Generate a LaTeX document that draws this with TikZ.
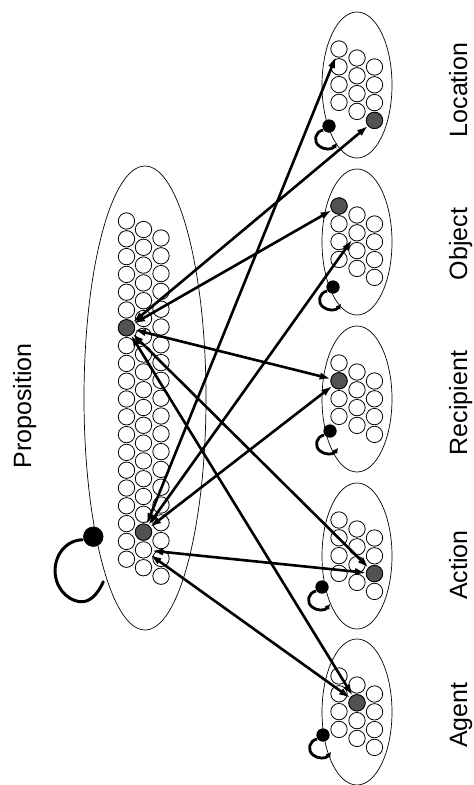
\documentclass[tikz,border=0pt]{standalone}
\usepackage{fontspec}
\setmainfont{Liberation Sans}
\usetikzlibrary{arrows.meta,shapes.geometric,calc}
\newcommand\roleloop[1]{%
  \draw[loopline] ($(#1)+(-6,4)$) .. controls ($(#1)+(-14,6)$) and ($(#1)+(-16,15)$) .. ($(#1)+(-10,20)$)
     .. controls ($(#1)+(-5,24)$) and ($(#1)+(3,24)$) .. ($(#1)+(8,17)$);}
\begin{document}
\begin{tikzpicture}[x=1pt,y=-1pt,
  unit/.style={circle,draw,line width=0.8pt,minimum size=16.4pt,inner sep=0pt,fill=white},
  hot/.style={unit,fill=black!68},
  grp/.style={ellipse,draw,line width=0.7pt,inner sep=0pt},
  link/.style={line width=2.6pt,{Latex[length=11pt,width=7.5pt]}-{Latex[length=11pt,width=7.5pt]}},
  rdot/.style={circle,fill=black,inner sep=0pt,minimum size=13pt},
  loopline/.style={line width=2.8pt,-{Latex[length=5pt,width=6pt]}},
  lab/.style={rotate=90,anchor=base,inner sep=0pt,font=\fontsize{25}{30}\selectfont}]
\useasboundingbox (0,0) rectangle (474,785);
\fill[white] (0,0) rectangle (474,785);

% Proposition group
\node[grp,minimum width=122pt,minimum height=464pt] (eprop) at (145,398) {};
\foreach \c/\x/\y in {1/126.5/221,2/143.5/229.5,3/161/238}
  \foreach \i in {0,...,19}
    \node[unit] (p-\c-\i) at (\x,\y+\i*17.8) {};
\node[hot] (pH1) at (p-1-6) {};
\node[hot] (pH2) at (p-2-17) {};

% Role groups
\foreach \n/\cy in {loc/85,obj/242,rec/399,act/556,agt/712}{
  \node[grp,minimum width=70pt,minimum height=146pt] (e\n) at (357,\cy) {};
  \foreach \c/\dx/\dy in {1/-18/-36,2/0/-27,3/17.5/-18}
    \foreach \i in {0,...,3}
      \node[unit] (\n-\c-\i) at (357+\dx,\cy+\dy+\i*17.8) {};
}
\node[hot] (locH) at (loc-3-3) {};
\node[hot] (objH) at (obj-1-0) {};
\node[hot] (recH) at (rec-1-1) {};
\node[hot] (actH) at (act-3-2) {};
\node[hot] (agtH) at (agt-2-1) {};

% Connections
\draw[link] (pH1) -- (locH);
\draw[link] (pH1) -- (objH);
\draw[link] (pH1) -- (recH);
\draw[link] (pH1) -- (actH);
\draw[link] (pH1) -- (agtH);
\draw[link] (pH2) -- (loc-1-0);
\draw[link] (pH2) -- (obj-2-1);
\draw[link] (pH2) -- (recH);
\draw[link] (p-2-18) -- (actH);
\draw[link] (p-2-18) -- (agtH);

% Self loops
\node[rdot] (dloc) at (329,126) {};
\node[rdot] (dobj) at (333,287) {};
\node[rdot] (drec) at (330,431) {};
\node[rdot] (dact) at (322,587) {};
\node[rdot] (dagt) at (323,735) {};
\roleloop{dloc}
\roleloop{dobj}
\roleloop{drec}
\roleloop{dact}
\roleloop{dagt}
\node[rdot] at (dloc) {};
\node[rdot] at (dobj) {};
\node[rdot] at (drec) {};
\node[rdot] at (dact) {};
\node[rdot] at (dagt) {};

\node[rdot,minimum size=20pt] (pdot) at (93.3,536.7) {};
\draw[line width=3pt,line cap=round] ($(pdot)+(-11,3)$) .. controls ($(pdot)+(-30,4)$) and ($(pdot)+(-40,22)$) .. ($(pdot)+(-38,38)$)
   .. controls ($(pdot)+(-36,55)$) and ($(pdot)+(-22,66)$) .. ($(pdot)+(-10,65)$)
   .. controls ($(pdot)+(0,64)$) and ($(pdot)+(7,52)$) .. ($(pdot)+(10,45)$);
\node[rdot,minimum size=20pt] at (pdot) {};

% Labels
\node[lab] (lprop) at (31,406) {Proposition};
\node[lab] (lloc) at (467,90) {Location};
\node[lab] (lobj) at (467,244) {Object};
\node[lab] (lrec) at (467,403) {Recipient};
\node[lab] (lact) at (467,565) {Action};
\node[lab] (lagt) at (467,715) {Agent};
\end{tikzpicture}
\end{document}
